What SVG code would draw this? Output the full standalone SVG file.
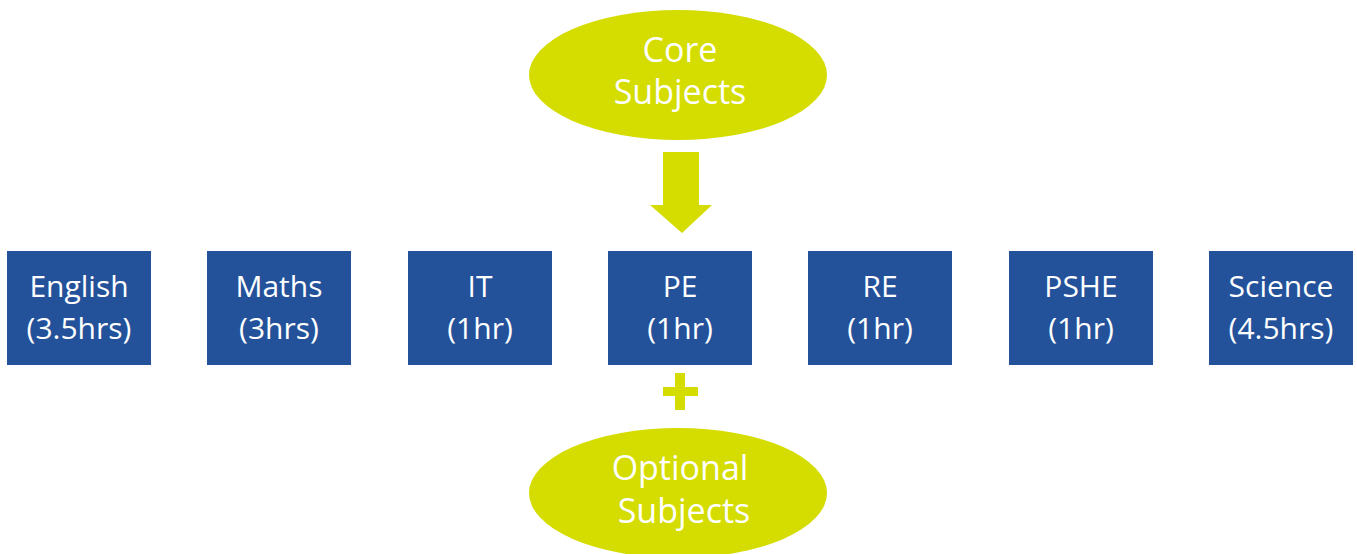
<svg xmlns="http://www.w3.org/2000/svg" width="1357" height="554" viewBox="0 0 1357 554">
<style>
.box{fill:#23529B}
.oval{fill:#D4DC00}
.t{font-family:"Open Sans","Noto Sans","Liberation Sans",sans-serif;fill:#ffffff;text-anchor:middle;font-size:30px}
.to{font-family:"Open Sans","Noto Sans","Liberation Sans",sans-serif;fill:#ffffff;text-anchor:middle;font-size:34px}
</style>
<rect width="1357" height="554" fill="#ffffff"/>
<g id="core">
<ellipse class="oval" cx="678" cy="75" rx="149" ry="65"/>
<text class="to" x="680" y="62">Core</text>
<text class="to" x="680" y="104">Subjects</text>
</g>
<g id="connectors">
<polygon fill="#D4DC00" points="663,152 699,152 699,205 712,205 682,233 650,205 663,205"/>
<rect x="675" y="373" width="10" height="37" fill="#D4DC00"/>
<rect x="663" y="387" width="35" height="9" fill="#D4DC00"/>
</g>
<g id="english"><rect class="box" x="7" y="251" width="144" height="114"/><text class="t" x="79" y="297">English</text><text class="t" x="79" y="339">(3.5hrs)</text></g>
<g id="maths"><rect class="box" x="207" y="251" width="144" height="114"/><text class="t" x="279" y="297">Maths</text><text class="t" x="279" y="339">(3hrs)</text></g>
<g id="it"><rect class="box" x="408" y="251" width="144" height="114"/><text class="t" x="480" y="297">IT</text><text class="t" x="480" y="339">(1hr)</text></g>
<g id="pe"><rect class="box" x="608" y="251" width="144" height="114"/><text class="t" x="680" y="297">PE</text><text class="t" x="680" y="339">(1hr)</text></g>
<g id="re"><rect class="box" x="808" y="251" width="144" height="114"/><text class="t" x="880" y="297">RE</text><text class="t" x="880" y="339">(1hr)</text></g>
<g id="pshe"><rect class="box" x="1009" y="251" width="144" height="114"/><text class="t" x="1081" y="297">PSHE</text><text class="t" x="1081" y="339">(1hr)</text></g>
<g id="science"><rect class="box" x="1209" y="251" width="144" height="114"/><text class="t" x="1281" y="297">Science</text><text class="t" x="1281" y="339">(4.5hrs)</text></g>
<g id="optional">
<ellipse class="oval" cx="678" cy="493" rx="149" ry="65"/>
<text class="to" x="680" y="480">Optional</text>
<text class="to" x="684" y="523">Subjects</text>
</g>
</svg>
